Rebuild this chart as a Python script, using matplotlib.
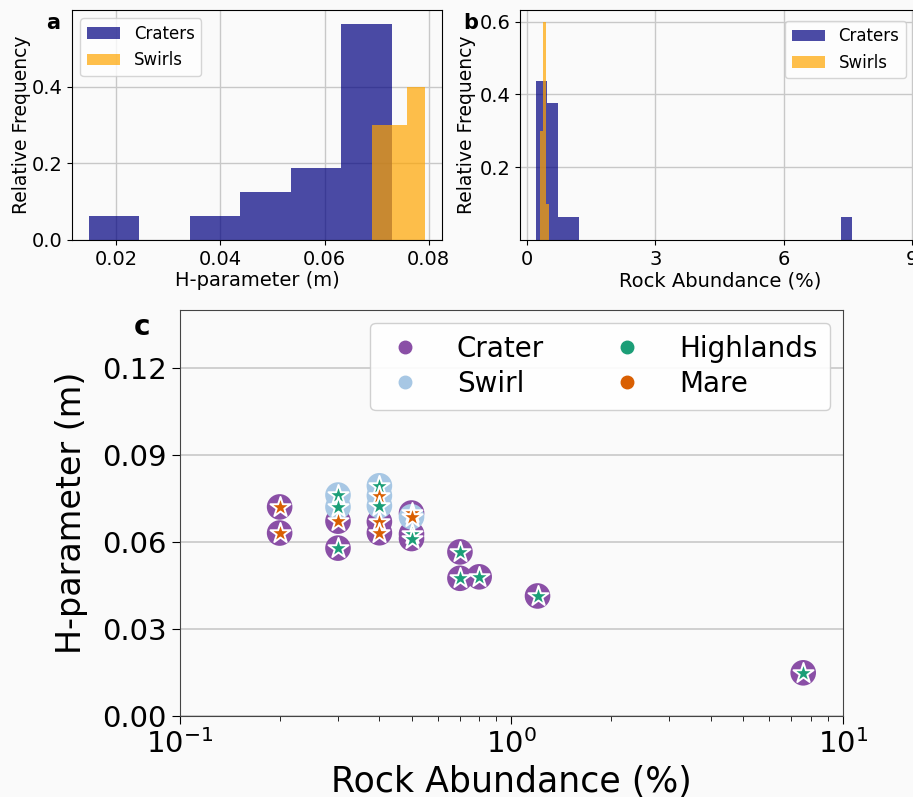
import numpy as np
import matplotlib.pyplot as plt
from matplotlib.lines import Line2D

# histogram a: H-parameter (m), relative frequency per bin
h_edges_craters = [0.0147, 0.0244, 0.0341, 0.0438, 0.0535, 0.0632, 0.0729]
h_freq_craters = [0.0625, 0.0, 0.0625, 0.125, 0.1875, 0.5625]
h_edges_swirls = [0.0691, 0.0725, 0.0759, 0.0793]
h_freq_swirls = [0.3, 0.3, 0.4]

# histogram b: rock abundance (%), relative frequency per bin
ra_edges_craters = np.linspace(0.2, 7.6, 30)
ra_freq_craters = np.zeros(29)
ra_freq_craters[0] = 0.4375
ra_freq_craters[1] = 0.375
ra_freq_craters[2] = 0.0625
ra_freq_craters[3] = 0.0625
ra_freq_craters[28] = 0.0625
ra_edges_swirls = [0.3, 0.3667, 0.4333, 0.5]
ra_freq_swirls = [0.3, 0.6, 0.1]

# scatter c: rock abundance vs H-parameter, with terrain type
crater_rock = [0.2, 0.2, 0.3, 0.3, 0.4, 0.4, 0.5, 0.5, 0.5, 0.7, 0.7, 0.8, 1.2, 7.6]
crater_h = [0.0721, 0.0631, 0.0672, 0.0579, 0.0670, 0.0632, 0.0700, 0.0628, 0.0612,
            0.0566, 0.0475, 0.0480, 0.0414, 0.0149]
crater_terrain = ['Mare', 'Mare', 'Mare', 'Highlands', 'Mare', 'Mare', 'Mare', 'Highlands',
                  'Highlands', 'Highlands', 'Highlands', 'Highlands', 'Highlands', 'Highlands']
swirl_rock = [0.3, 0.3, 0.4, 0.4, 0.4, 0.5]
swirl_h = [0.0762, 0.0721, 0.0794, 0.0760, 0.0725, 0.0687]
swirl_terrain = ['Highlands', 'Highlands', 'Highlands', 'Mare', 'Highlands', 'Mare']

c_crater = '#8a4fa6'
c_swirl = '#a7c7e4'
terrain_colors = {'Highlands': '#1b9e77', 'Mare': '#d95f02'}
bg = '#fafafa'

fig = plt.figure(figsize=(9.13, 7.97), dpi=100, facecolor=bg)

# ---- a ----
ax1 = fig.add_axes([0.0789, 0.699, 0.405, 0.2886], facecolor=bg)
ax1.hist(h_edges_craters[:-1], bins=h_edges_craters, weights=h_freq_craters,
         color='navy', alpha=0.7, label='Craters')
ax1.hist(h_edges_swirls[:-1], bins=h_edges_swirls, weights=h_freq_swirls,
         color='orange', alpha=0.7, label='Swirls')
ax1.set_xticks([0.02, 0.04, 0.06, 0.08])
ax1.set_yticks([0.0, 0.2, 0.4])
ax1.set_ylim(0, 0.6)
ax1.grid(True, color='#c8c8c8', lw=1)
ax1.set_axisbelow(True)
ax1.set_xlabel('H-parameter (m)', fontsize=14, labelpad=2)
ax1.set_ylabel('Relative Frequency', fontsize=13.5, labelpad=0)
ax1.tick_params(labelsize=14)
ax1.legend(loc='upper left', fontsize=12, handlelength=2.0, handletextpad=0.8)
fig.text(0.058, 0.971, 'a', fontsize=15, fontweight='bold', ha='center', va='center')

# ---- b ----
ax2 = fig.add_axes([0.570, 0.699, 0.438, 0.2886], facecolor=bg)
ax2.hist(ra_edges_craters[:-1], bins=ra_edges_craters, weights=ra_freq_craters,
         color='navy', alpha=0.7, label='Craters')
ax2.hist(ra_edges_swirls[:-1], bins=ra_edges_swirls, weights=ra_freq_swirls,
         color='orange', alpha=0.7, label='Swirls')
ax2.set_xlim(-0.16, 9.2)
ax2.set_ylim(0, 0.632)
ax2.set_xticks([0, 3, 6, 9])
ax2.set_yticks([0.2, 0.4, 0.6])
ax2.grid(True, color='#c8c8c8', lw=1)
ax2.set_axisbelow(True)
ax2.set_xlabel('Rock Abundance (%)', fontsize=14, labelpad=2)
ax2.set_ylabel('Relative Frequency', fontsize=13.5, labelpad=3)
ax2.tick_params(labelsize=14)
ax2.legend(loc='upper right', bbox_to_anchor=(0.985, 0.99), fontsize=12,
           handlelength=2.0, handletextpad=0.8)
fig.text(0.5155, 0.971, 'b', fontsize=15, fontweight='bold', ha='center', va='center')

# ---- c ----
ax3 = fig.add_axes([0.197, 0.1016, 0.726, 0.5094], facecolor=bg)
ax3.scatter(crater_rock, crater_h, s=340, color=c_crater, edgecolor='none', zorder=3)
ax3.scatter(swirl_rock, swirl_h, s=340, color=c_swirl, edgecolor='none', zorder=3)
for rock, h, terr in zip(crater_rock + swirl_rock, crater_h + swirl_h,
                         crater_terrain + swirl_terrain):
    ax3.scatter(rock, h, s=230, marker='*', color=terrain_colors[terr],
                edgecolor='white', linewidth=1.4, zorder=4)
ax3.set_xscale('log')
ax3.set_xlim(0.1, 10)
ax3.set_ylim(0, 0.14)
ax3.set_yticks([0.0, 0.03, 0.06, 0.09, 0.12])
ax3.yaxis.set_major_formatter(plt.FormatStrFormatter('%.2f'))
ax3.grid(True, axis='y', color='#c8c8c8', lw=1.2)
ax3.set_axisbelow(True)
for sp in ax3.spines.values():
    sp.set_color('#444444')
ax3.tick_params(labelsize=21, length=6)
ax3.tick_params(which='minor', length=3.5)
ax3.set_xlabel('Rock Abundance (%)', fontsize=25, labelpad=4)
ax3.set_ylabel('H-parameter (m)', fontsize=24, labelpad=10)

handles = [
    Line2D([], [], marker='o', ls='none', ms=9, color=c_crater, label='Crater'),
    Line2D([], [], marker='o', ls='none', ms=9, color=c_swirl, label='Swirl'),
    Line2D([], [], marker='o', ls='none', ms=9, color=terrain_colors['Highlands'], label='Highlands'),
    Line2D([], [], marker='o', ls='none', ms=9, color=terrain_colors['Mare'], label='Mare'),
]
ax3.legend(handles=handles, ncol=2, loc='upper right', borderaxespad=0.45,
           fontsize=20, handlelength=1.6, handletextpad=1.07, columnspacing=2.2,
           borderpad=0.45, labelspacing=0.25, framealpha=0.9)
fig.text(0.155, 0.59, 'c', fontsize=20, fontweight='bold', ha='center', va='center')

fig.savefig('out.png', dpi=100, facecolor=bg)
